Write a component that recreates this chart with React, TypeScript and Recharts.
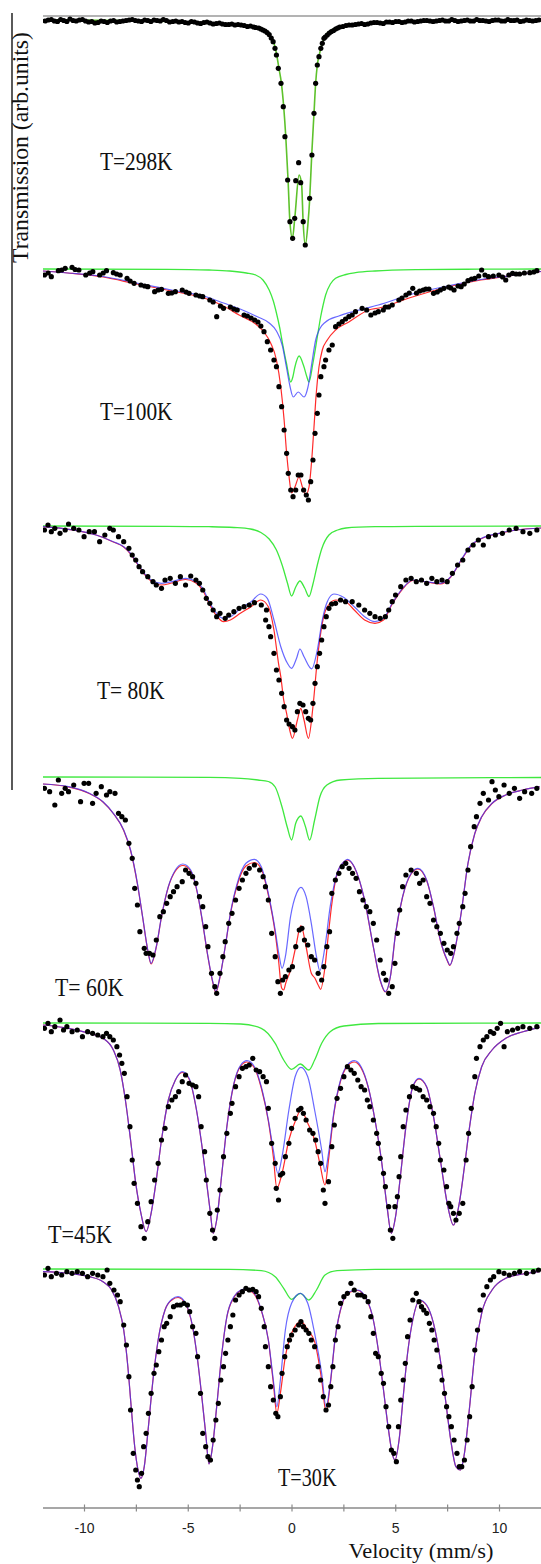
import React from 'react';
import { ComposedChart, Line, Scatter, XAxis, YAxis, ReferenceLine } from 'recharts';

type Pt = [number, number];

// [velocity (mm/s), transmission (arb. units, 100 = baseline)]

// T = 298K
const P1_DATA: Pt[] = [
  [-11.9, 99.9], [-11.6, 100.05], [-11.3, 99.85], [-11.0, 99.95], [-10.7, 100.1], [-10.4, 99.9], [-10.1, 100.05],
  [-9.8, 99.8], [-9.5, 99.7], [-9.2, 99.9], [-8.9, 99.75], [-8.6, 99.95], [-8.3, 99.85], [-8.0, 99.95], [-7.7, 100.05],
  [-7.4, 99.9], [-7.1, 100.0], [-6.8, 99.85], [-6.5, 99.95], [-6.2, 100.05], [-5.9, 99.8], [-5.6, 99.9], [-5.3, 99.85],
  [-5.0, 99.7], [-4.7, 99.8], [-4.4, 99.65], [-4.1, 99.8], [-3.8, 99.6], [-3.5, 99.7], [-3.2, 99.55], [-2.9, 99.6],
  [-2.6, 99.55], [-2.3, 99.45], [-2.0, 99.4], [-1.75, 99.25], [-1.5, 99.1], [-1.3, 98.9], [-1.1, 98.55],
  [-11.75, 100.0], [-11.45, 99.9], [-11.15, 100.05], [-10.85, 99.85], [-10.55, 99.95], [-10.25, 100.0], [-9.95, 99.9],
  [-9.65, 99.85], [-9.35, 99.75], [-9.05, 99.85], [-8.75, 99.9], [-8.45, 99.8], [-8.15, 99.9], [-7.85, 100.0],
  [-7.55, 99.95], [-7.25, 99.85], [-6.95, 99.95], [-6.65, 100.0], [-6.35, 99.9], [-6.05, 99.95], [-5.75, 99.85],
  [-5.45, 99.8], [-5.15, 99.75], [-4.85, 99.85], [-4.55, 99.7], [-4.25, 99.75], [-3.95, 99.7], [-3.65, 99.65],
  [-3.35, 99.6], [-3.05, 99.55], [-2.75, 99.5], [-2.45, 99.5], [-2.15, 99.35], [-1.85, 99.3], [-1.6, 99.2],
  [-1.4, 99.0], [-1.2, 98.75], [-1.0, 98.2],
  [-0.91, 97.83], [-0.82, 97.17], [-0.75, 96.5], [-0.66, 95.17], [-0.53, 93.67], [-0.42, 91.33], [-0.34, 88.33],
  [-0.21, 84.0], [-0.1, 79.83], [0.03, 78.17], [0.13, 80.17], [0.18, 83.93], [0.32, 85.73], [0.42, 83.73],
  [0.54, 79.83], [0.64, 77.5], [0.85, 82.17], [0.96, 86.5], [1.06, 90.67], [1.14, 93.67], [1.22, 95.5], [1.3, 96.33],
  [1.39, 97.17], [1.46, 97.67], [1.54, 98.17], [1.7, 98.5], [1.9, 98.85], [2.1, 99.1], [2.3, 99.3], [2.6, 99.45],
  [2.9, 99.5], [3.2, 99.6], [3.5, 99.55], [3.8, 99.7], [4.1, 99.75], [4.4, 99.65], [4.7, 99.8], [5.0, 99.85],
  [5.3, 99.75], [5.6, 99.9], [5.9, 99.8], [6.2, 99.9], [6.5, 99.95], [6.8, 99.85], [7.1, 99.95], [7.4, 99.9],
  [7.7, 100.05], [8.0, 99.85], [8.3, 99.95], [8.6, 99.9], [8.9, 100.05], [9.2, 99.95], [9.5, 99.85], [9.8, 100.0],
  [10.1, 99.9], [10.4, 100.05], [10.7, 99.95], [11.0, 99.85], [11.3, 100.0], [11.6, 99.9], [11.9, 100.0],
  [1.6, 98.3], [1.8, 98.7], [2.0, 98.95], [2.2, 99.2], [2.45, 99.35], [2.75, 99.5], [3.05, 99.55], [3.35, 99.65],
  [3.65, 99.6], [3.95, 99.75], [4.25, 99.7], [4.55, 99.8], [4.85, 99.75], [5.15, 99.85], [5.45, 99.8], [5.75, 99.9],
  [6.05, 99.85], [6.35, 99.95], [6.65, 99.9], [6.95, 99.9], [7.25, 100.0], [7.55, 99.9], [7.85, 99.95], [8.15, 99.9],
  [8.45, 100.0], [8.75, 99.9], [9.05, 99.95], [9.35, 99.9], [9.65, 99.95], [9.95, 100.0], [10.25, 99.9],
  [10.55, 99.95], [10.85, 100.0], [11.15, 99.9], [11.45, 99.95], [11.75, 99.95],
];
const P1_FIT: Pt[] = [
  [-12, 100], [-8, 99.95], [-6, 99.85], [-4.95, 99.75], [-3.35, 99.6], [-2.5, 99.5], [-1.75, 99.3], [-1.11, 98.5],
  [-0.87, 97.67], [-0.75, 96.67], [-0.63, 95.17], [-0.51, 93.67], [-0.4, 91.33], [-0.3, 88.33], [-0.19, 84.0],
  [-0.1, 79.83], [0.02, 78.17], [0.14, 80.33], [0.34, 84.5], [0.46, 83.67], [0.54, 79.67], [0.64, 77.5], [0.77, 79.67],
  [0.85, 82.0], [0.95, 86.5], [1.06, 90.67], [1.14, 93.67], [1.22, 95.5], [1.33, 96.67], [1.46, 97.67], [1.62, 98.5],
  [2.1, 99.17], [3.06, 99.5], [3.7, 99.7], [6, 99.85], [9, 99.92], [12, 99.95],
];

// T = 100K
const P2_DATA: Pt[] = [
  [-11.93, 99.4], [-11.6, 99.23], [-11.26, 99.83], [-10.93, 100.07], [-10.6, 100.17], [-10.27, 99.9], [-9.94, 99.4],
  [-9.6, 99.73], [-9.27, 99.4], [-8.94, 99.83], [-8.61, 99.63], [-8.28, 99.4], [-7.95, 99.07], [-7.61, 98.57],
  [-7.28, 98.4], [-6.95, 98.23], [-6.62, 97.73], [-6.29, 97.97], [-5.96, 97.57], [-5.62, 97.73], [-5.29, 97.9],
  [-4.96, 97.57], [-4.63, 97.4], [-4.3, 97.23], [-3.96, 96.9], [-3.63, 95.23], [-3.3, 96.07], [-2.97, 96.2],
  [-2.64, 95.9], [-2.31, 95.4], [-1.97, 95.1], [-1.64, 94.7], [-1.35, 93.73], [-1.19, 92.73], [-1.03, 91.9],
  [-11.75, 99.6], [-11.1, 99.9], [-10.45, 99.95], [-9.75, 99.6], [-9.1, 99.6], [-8.45, 99.5], [-7.8, 98.8],
  [-7.1, 98.3], [-6.45, 97.9], [-5.8, 97.6], [-5.1, 97.7], [-4.45, 97.3], [-3.8, 96.7], [-3.45, 96.3], [-2.8, 96.0],
  [-2.15, 95.3], [-1.8, 94.9], [-1.5, 94.3],
  [-0.87, 90.9], [-0.75, 90.23], [-0.63, 88.23], [-0.5, 86.23], [-0.38, 83.9], [-0.26, 81.57], [-0.18, 79.57],
  [-0.06, 77.9], [0.05, 77.23], [0.18, 77.9], [0.3, 79.4], [0.43, 79.4], [0.56, 77.9], [0.69, 77.4], [0.79, 76.9],
  [0.9, 78.73], [1.01, 80.9], [1.11, 83.57], [1.22, 85.57], [1.3, 87.4], [1.39, 89.23], [1.54, 90.23], [1.62, 90.9],
  [1.78, 91.9], [1.94, 92.4], [2.1, 94.23], [2.42, 94.73], [2.74, 95.23], [3.06, 95.73], [3.38, 96.07], [3.8, 95.4],
  [4.16, 95.73], [4.4, 95.9], [4.5, 96.2], [4.83, 96.4], [5.15, 96.9], [5.49, 97.4], [5.82, 98.07], [6.0, 97.6],
  [6.32, 97.9], [6.6, 98.0], [6.82, 97.57], [7.0, 97.7], [7.32, 98.07], [7.55, 98.2], [7.81, 97.9], [8.0, 98.3],
  [8.15, 98.23], [8.48, 98.83], [8.81, 99.07], [9.14, 99.9], [9.47, 99.23], [9.97, 99.4], [10.3, 98.9],
  [10.63, 99.57], [10.97, 99.5], [11.46, 99.63], [11.8, 99.83],
  [2.26, 94.5], [2.58, 95.0], [2.9, 95.4], [3.6, 95.9], [4.0, 95.6], [4.65, 96.2], [5.3, 97.1], [5.65, 97.6],
  [6.15, 97.8], [6.45, 98.0], [7.15, 97.9], [7.65, 98.1], [8.3, 98.5], [8.65, 99.0], [9.0, 99.3], [9.3, 99.4],
  [9.7, 99.3], [10.15, 99.2], [10.45, 99.4], [10.8, 99.5], [11.2, 99.6], [11.65, 99.7],
];
const P2_RED: Pt[] = [
  [-12, 99.8], [-10.8, 99.6], [-9.1, 99.2], [-7.5, 98.5], [-5.8, 97.8], [-4.1, 97.0], [-3.3, 96.3], [-2.55, 95.4],
  [-1.75, 94.5], [-1.35, 93.7], [-1.03, 92.6], [-0.75, 90.9], [-0.54, 88.2], [-0.38, 84.9], [-0.26, 81.6],
  [-0.14, 79.2], [-0.02, 77.6], [0.14, 78.2], [0.34, 79.2], [0.5, 78.2], [0.66, 77.4], [0.82, 78.2], [0.95, 80.9],
  [1.06, 84.2], [1.17, 87.6], [1.3, 90.2], [1.46, 91.9], [1.7, 92.9], [2.1, 93.9], [2.74, 94.7], [3.7, 95.9],
  [4.2, 96.1], [5.8, 97.2], [7.5, 98.2], [9.1, 98.9], [10.8, 99.4], [12, 99.75],
];
const P2_BLUE: Pt[] = [
  [-12, 99.8], [-10.8, 99.6], [-9.1, 99.25], [-7.5, 98.6], [-5.8, 97.9], [-4.1, 97.2], [-3.3, 96.6], [-2.5, 96.0],
  [-1.75, 95.3], [-1.1, 94.6], [-0.75, 93.8], [-0.46, 92.3], [-0.27, 90.2], [-0.1, 88.3], [0.06, 87.2], [0.3, 87.7],
  [0.58, 87.2], [0.77, 88.2], [0.95, 90.5], [1.14, 92.9], [1.33, 94.0], [1.62, 94.7], [2.26, 95.3], [3.06, 95.8],
  [4.16, 96.4], [5.8, 97.5], [7.5, 98.3], [9.1, 98.95], [10.8, 99.4], [12, 99.75],
];
const P2_GREEN: Pt[] = [
  [-12, 100], [-6, 99.97], [-4, 99.9], [-3, 99.8], [-2.2, 99.6], [-1.75, 99.4], [-1.4, 98.9], [-1.1, 97.9],
  [-0.9, 96.8], [-0.75, 95.6], [-0.6, 94.2], [-0.46, 92.6], [-0.27, 90.6], [-0.06, 88.7], [0.04, 89.2], [0.14, 90.2],
  [0.34, 91.3], [0.58, 90.2], [0.72, 89.2], [0.82, 88.7], [1.01, 90.6], [1.22, 93.2], [1.38, 95.2], [1.5, 96.4],
  [1.62, 97.4], [1.85, 98.5], [2.1, 99.07], [2.6, 99.45], [3.06, 99.63], [4, 99.8], [6, 99.93], [9, 99.98], [12, 100],
];

// T = 80K
const P3_DATA: Pt[] = [
  [-11.93, 99.6], [-11.76, 100.1], [-11.6, 99.43], [-11.43, 99.77], [-11.18, 99.27], [-10.93, 99.6], [-10.77, 100.2],
  [-10.52, 99.77], [-10.27, 99.6], [-10.02, 98.93], [-9.77, 99.43], [-9.52, 99.43], [-9.27, 98.43], [-9.02, 99.1],
  [-8.78, 99.77], [-8.61, 99.6], [-8.36, 98.93], [-8.11, 98.43], [-7.86, 97.77], [-7.7, 97.1], [-7.53, 96.6],
  [-7.37, 95.93], [-7.2, 95.43], [-6.95, 94.93], [-6.7, 94.43], [-6.54, 94.1], [-6.29, 93.77], [-6.12, 94.6],
  [-5.87, 94.77], [-5.62, 94.27], [-5.38, 94.93], [-5.13, 94.1], [-4.88, 95.0], [-4.63, 94.6], [-4.46, 94.27],
  [-4.3, 93.6], [-4.13, 92.77], [-3.96, 92.27], [-3.8, 91.6], [-3.63, 90.93], [-3.47, 91.27], [-3.22, 90.77],
  [-3.05, 91.1], [-2.8, 91.43], [-2.55, 91.77], [-2.31, 91.93], [-2.06, 92.1], [-1.81, 92.33], [-1.48, 92.1],
  [-1.27, 90.6], [-1.23, 91.6], [-1.11, 89.93], [-1.03, 88.93], [-0.87, 87.27], [-0.75, 85.6], [-0.63, 84.6],
  [-0.5, 83.27], [-0.38, 81.93], [-0.26, 80.6], [-0.14, 80.2], [0.02, 79.93], [0.14, 79.6], [0.26, 81.43],
  [0.38, 82.27], [0.53, 82.1], [0.66, 81.43], [0.79, 80.77], [0.9, 80.6], [1.01, 82.27], [1.11, 84.27], [1.22, 85.93],
  [1.33, 87.27], [1.43, 88.6], [1.54, 89.93], [1.65, 90.93], [1.78, 91.77], [1.91, 92.2], [2.1, 92.27], [2.34, 92.6],
  [2.58, 92.43], [2.9, 92.43], [3.22, 92.1], [3.5, 91.6], [3.75, 91.27], [4.0, 90.93], [4.25, 90.77], [4.5, 90.93],
  [4.66, 91.6], [4.83, 92.43], [4.99, 93.1], [5.24, 93.93], [5.49, 94.6], [5.74, 94.77], [5.99, 94.43], [6.24, 94.6],
  [6.49, 94.27], [6.74, 94.77], [6.98, 94.43], [7.23, 94.6], [7.48, 94.43], [7.73, 95.27], [7.98, 96.1], [8.23, 96.6],
  [8.48, 97.6], [8.73, 98.1], [8.98, 98.6], [9.22, 98.1], [9.47, 98.93], [9.8, 99.1], [10.14, 99.27], [10.47, 99.6],
  [10.8, 99.77], [11.13, 99.43], [11.46, 99.27], [11.8, 99.6],
];
const P3_RED: Pt[] = [
  [-12, 99.93], [-10.77, 99.67], [-9.44, 99.1], [-8.61, 98.4], [-8.11, 97.9], [-7.78, 97.2], [-7.45, 96.2],
  [-7.12, 95.2], [-6.79, 94.5], [-6.29, 94.1], [-5.79, 94.3], [-5.13, 94.65], [-4.63, 94.3], [-4.31, 93.6],
  [-3.96, 92.1], [-3.63, 91.0], [-3.3, 90.43], [-2.97, 90.6], [-2.47, 91.3], [-1.97, 91.93], [-1.51, 92.6],
  [-1.14, 91.93], [-0.87, 89.6], [-0.65, 86.27], [-0.54, 84.93], [-0.4, 82.6], [-0.26, 81.27], [-0.11, 79.6],
  [0.02, 78.77], [0.26, 80.6], [0.42, 81.77], [0.58, 80.6], [0.79, 78.77], [1.01, 81.93], [1.22, 86.6], [1.46, 90.27],
  [1.7, 91.93], [2.1, 92.6], [2.58, 92.43], [3.0, 91.6], [3.5, 90.6], [4.0, 90.27], [4.41, 90.6], [4.83, 92.2],
  [5.33, 93.7], [5.82, 94.55], [6.49, 94.4], [7.15, 94.2], [7.65, 94.9], [8.15, 96.55], [8.64, 98.05], [9.14, 98.75],
  [9.97, 99.25], [10.8, 99.6], [12, 99.8],
];
const P3_BLUE: Pt[] = [
  [-12, 99.93], [-10.77, 99.67], [-9.44, 99.1], [-8.61, 98.43], [-8.11, 97.93], [-7.78, 97.27], [-7.45, 96.27],
  [-7.12, 95.27], [-6.79, 94.6], [-6.29, 94.27], [-5.79, 94.43], [-5.13, 94.77], [-4.63, 94.43], [-4.31, 93.8],
  [-3.96, 92.3], [-3.63, 91.27], [-3.35, 90.8], [-2.97, 90.93], [-2.47, 91.77], [-1.97, 92.43], [-1.51, 93.2],
  [-1.19, 92.77], [-0.87, 90.6], [-0.54, 87.93], [-0.22, 86.27], [-0.02, 85.77], [0.22, 86.77], [0.38, 87.7],
  [0.58, 86.93], [0.95, 85.72], [1.22, 87.6], [1.46, 90.6], [1.7, 92.43], [2.02, 93.2], [2.5, 92.85], [3.0, 91.93],
  [3.5, 90.93], [4.0, 90.43], [4.41, 90.77], [4.83, 92.27], [5.33, 93.77], [5.82, 94.6], [6.49, 94.43], [7.15, 94.27],
  [7.65, 94.93], [8.15, 96.6], [8.64, 98.1], [9.14, 98.77], [9.97, 99.27], [10.8, 99.6], [12, 99.8],
];
const P3_GREEN: Pt[] = [
  [-12, 100], [-6, 99.97], [-4, 99.93], [-2.8, 99.85], [-2, 99.7], [-1.5, 99.35], [-1.1, 98.7], [-0.75, 97.6],
  [-0.46, 96.0], [-0.22, 94.3], [-0.02, 93.0], [0.18, 93.9], [0.38, 94.5], [0.61, 93.8], [0.82, 92.95], [1.01, 94.2],
  [1.22, 96.1], [1.43, 97.7], [1.78, 99.1], [2.2, 99.6], [2.6, 99.8], [4, 99.93], [6, 99.97], [12, 100],
];

// T = 60K
const P4_DATA: Pt[] = [
  [-11.93, 98.87], [-11.68, 98.53], [-11.43, 97.2], [-11.26, 99.7], [-11.1, 98.37], [-10.93, 98.87], [-10.77, 98.53],
  [-10.52, 99.2], [-10.19, 97.53], [-10.02, 99.37], [-9.8, 99.37], [-9.61, 97.37], [-9.44, 98.37], [-9.19, 99.03],
  [-8.94, 98.2], [-8.78, 98.53], [-8.53, 98.37], [-8.36, 96.37], [-8.2, 96.03], [-8.03, 95.7], [-7.86, 93.37],
  [-7.7, 91.87], [-7.58, 88.87], [-7.45, 87.2], [-7.33, 84.53], [-7.12, 82.87], [-7.03, 82.37], [-6.87, 82.37],
  [-6.7, 82.2], [-6.54, 83.7], [-6.37, 86.03], [-6.2, 86.53], [-6.04, 87.37], [-5.87, 88.03], [-5.71, 88.53],
  [-5.54, 89.03], [-5.29, 89.53], [-5.13, 90.7], [-4.96, 90.37], [-4.79, 90.03], [-4.63, 89.37], [-4.46, 88.03],
  [-4.3, 87.03], [-4.16, 85.03], [-4.05, 83.03], [-3.88, 80.37], [-3.72, 79.03], [-3.63, 78.37], [-3.47, 80.37],
  [-3.33, 82.03], [-3.22, 83.53], [-3.05, 85.37], [-2.89, 86.37], [-2.72, 87.7], [-2.55, 88.87], [-2.39, 89.7],
  [-2.22, 90.37], [-2.06, 90.87], [-1.81, 91.2], [-1.56, 90.7], [-1.39, 90.03], [-1.28, 89.03], [-1.14, 87.7],
  [-0.98, 84.37], [-0.81, 82.03], [-0.68, 79.53], [-0.56, 78.37], [-0.45, 79.7], [-0.32, 80.03], [-0.15, 80.7],
  [0.02, 81.03], [0.18, 83.03], [0.35, 84.7], [0.48, 84.87], [0.6, 83.7], [0.76, 83.2], [0.93, 82.03], [1.09, 81.7],
  [1.26, 80.37], [1.43, 79.7], [1.54, 81.03], [1.68, 83.03], [1.81, 84.53], [1.92, 88.37], [2.09, 89.7], [2.26, 90.37],
  [2.42, 91.03], [2.59, 91.37], [2.75, 90.87], [2.92, 90.37], [3.09, 89.87], [3.25, 88.53], [3.42, 87.7], [3.58, 87.03],
  [3.75, 86.53], [3.92, 85.37], [4.08, 83.7], [4.25, 81.7], [4.41, 80.37], [4.53, 79.7], [4.66, 78.37], [4.83, 79.03],
  [4.96, 81.37], [5.08, 84.37], [5.19, 86.7], [5.33, 89.03], [5.49, 90.2], [5.74, 90.7], [5.99, 90.37], [6.15, 89.37],
  [6.32, 89.7], [6.49, 88.03], [6.65, 87.37], [6.82, 85.7], [6.98, 85.03], [7.15, 84.37], [7.32, 83.37], [7.48, 82.7],
  [7.65, 82.37], [7.78, 83.03], [7.95, 84.37], [8.06, 85.37], [8.23, 87.03], [8.34, 88.37], [8.48, 90.7], [8.61, 93.03],
  [8.78, 95.03], [8.89, 96.03], [9.06, 97.37], [9.22, 98.37], [9.47, 97.7], [9.64, 99.53], [9.8, 98.7], [9.97, 98.03],
  [10.22, 99.2], [10.47, 98.37], [10.72, 98.87], [10.97, 97.87], [11.21, 98.53], [11.55, 98.37], [11.8, 98.87],
];
const P4_RED: Pt[] = [
  [-12, 99.3], [-10.77, 99.0], [-9.77, 98.35], [-9.11, 97.5], [-8.61, 96.35], [-8.11, 94.65], [-7.78, 92.65],
  [-7.45, 89.3], [-7.2, 86.0], [-6.95, 82.65], [-6.79, 81.3], [-6.54, 83.0], [-6.29, 86.0], [-5.96, 89.0],
  [-5.62, 90.6], [-5.26, 91.15], [-4.88, 90.6], [-4.55, 88.3], [-4.3, 85.3], [-4.05, 82.0], [-3.8, 79.3],
  [-3.67, 78.45], [-3.47, 80.0], [-3.22, 83.0], [-2.97, 86.3], [-2.64, 89.2], [-2.22, 91.1], [-1.81, 91.45],
  [-1.48, 90.8], [-1.14, 88.2], [-0.81, 84.4], [-0.65, 81.7], [-0.5, 78.9], [-0.4, 78.7], [-0.3, 79.4], [-0.07, 80.7],
  [0.18, 83.0], [0.43, 85.13], [0.68, 83.0], [0.93, 80.37], [1.1, 79.9], [1.26, 79.2], [1.38, 78.77], [1.59, 81.0],
  [1.76, 84.4], [1.9, 87.0], [2.17, 90.3], [2.5, 91.5], [2.67, 91.7], [3.0, 91.0], [3.5, 87.65], [3.92, 83.0],
  [4.25, 79.65], [4.5, 78.5], [4.74, 80.0], [4.99, 84.3], [5.33, 88.0], [5.74, 90.3], [6.07, 90.8], [6.49, 89.65],
  [6.82, 87.0], [7.15, 83.65], [7.48, 81.65], [7.61, 81.15], [7.81, 82.35], [8.15, 86.35], [8.48, 91.35], [8.81, 94.35],
  [9.14, 96.0], [9.64, 97.35], [10.3, 98.2], [11.13, 98.7], [11.93, 99.03],
];
const P4_BLUE: Pt[] = [
  [-12, 99.3], [-10.77, 99.03], [-9.77, 98.37], [-9.11, 97.53], [-8.61, 96.37], [-8.11, 94.7], [-7.78, 92.7],
  [-7.45, 89.37], [-7.2, 86.03], [-6.95, 82.7], [-6.79, 81.37], [-6.54, 83.03], [-6.29, 86.03], [-5.96, 89.03],
  [-5.62, 90.7], [-5.26, 91.3], [-4.88, 90.7], [-4.55, 88.37], [-4.3, 85.37], [-4.05, 82.03], [-3.8, 79.37],
  [-3.67, 78.53], [-3.47, 80.03], [-3.22, 83.03], [-2.97, 86.37], [-2.64, 89.37], [-2.22, 91.37], [-1.81, 91.77],
  [-1.48, 91.03], [-1.14, 88.37], [-0.81, 84.7], [-0.61, 82.03], [-0.48, 80.87], [-0.32, 82.03], [-0.07, 86.03],
  [0.22, 88.37], [0.43, 88.97], [0.68, 88.03], [0.93, 85.37], [1.18, 82.03], [1.34, 80.63], [1.59, 83.03],
  [1.84, 87.03], [2.17, 90.37], [2.5, 91.53], [2.67, 91.77], [3.0, 91.03], [3.5, 87.7], [3.92, 83.03], [4.25, 79.7],
  [4.5, 78.53], [4.74, 80.03], [4.99, 84.37], [5.33, 88.03], [5.74, 90.37], [6.07, 90.87], [6.49, 89.7], [6.82, 87.03],
  [7.15, 83.7], [7.48, 81.7], [7.61, 81.2], [7.81, 82.37], [8.15, 86.37], [8.48, 91.37], [8.81, 94.37], [9.14, 96.03],
  [9.64, 97.37], [10.3, 98.2], [11.13, 98.7], [11.93, 99.03],
];
const P4_GREEN: Pt[] = [
  [-12, 100], [-4, 99.97], [-2.47, 99.87], [-1.64, 99.7], [-1.14, 99.55], [-0.81, 99.0], [-0.48, 97.0], [-0.23, 95.0],
  [-0.02, 93.7], [0.18, 95.37], [0.43, 96.1], [0.65, 95.03], [0.85, 93.7], [1.09, 95.7], [1.34, 98.0], [1.68, 99.2],
  [2.34, 99.7], [4.16, 99.87], [12, 99.95],
];

// T = 45K
const P5_DATA: Pt[] = [
  [-11.93, 99.47], [-11.76, 99.97], [-11.6, 99.13], [-11.43, 99.63], [-11.18, 100.3], [-11.01, 99.3], [-10.85, 99.63],
  [-10.6, 99.13], [-10.35, 99.3], [-10.1, 98.63], [-9.85, 99.13], [-9.61, 98.97], [-9.36, 98.8], [-9.11, 98.63],
  [-8.94, 98.97], [-8.78, 98.63], [-8.61, 98.3], [-8.44, 97.63], [-8.31, 96.8], [-8.2, 95.97], [-8.08, 94.97],
  [-7.95, 92.63], [-7.81, 89.63], [-7.7, 86.3], [-7.61, 83.97], [-7.45, 81.97], [-7.28, 79.63], [-7.12, 78.47],
  [-6.95, 80.13], [-6.79, 82.13], [-6.62, 84.3], [-6.45, 85.97], [-6.29, 88.3], [-6.12, 89.47], [-5.96, 91.63],
  [-5.79, 92.3], [-5.62, 92.63], [-5.46, 93.13], [-5.29, 94.13], [-5.13, 94.8], [-4.96, 93.97], [-4.79, 93.8],
  [-4.63, 93.63], [-4.5, 92.63], [-4.38, 89.63], [-4.21, 87.13], [-4.13, 84.3], [-3.96, 80.97], [-3.83, 79.3],
  [-3.72, 78.47], [-3.6, 81.3], [-3.47, 83.3], [-3.3, 86.63], [-3.14, 88.97], [-2.97, 90.97], [-2.89, 91.97],
  [-2.72, 93.63], [-2.55, 94.63], [-2.39, 95.47], [-2.22, 95.63], [-2.06, 95.8], [-1.89, 96.47], [-1.73, 95.3],
  [-1.56, 95.13], [-1.39, 94.63], [-1.23, 94.13], [-1.14, 91.47], [-0.98, 87.97], [-0.81, 85.97], [-0.76, 83.47],
  [-0.65, 82.3], [-0.56, 84.8], [-0.45, 84.97], [-0.32, 86.63], [-0.15, 87.97], [-0.02, 89.47], [0.15, 90.47],
  [0.32, 91.3], [0.43, 91.47], [0.55, 90.97], [0.68, 90.3], [0.85, 89.3], [1.01, 88.97], [1.14, 88.3], [1.26, 87.13],
  [1.38, 85.97], [1.51, 83.3], [1.59, 81.97], [1.76, 84.13], [1.92, 87.63], [2.04, 89.8], [2.17, 92.47], [2.34, 93.47],
  [2.5, 94.63], [2.67, 95.63], [2.84, 95.3], [3.0, 94.97], [3.17, 94.3], [3.33, 93.63], [3.5, 93.3], [3.63, 92.3],
  [3.75, 91.63], [3.92, 90.3], [4.08, 88.97], [4.16, 87.97], [4.25, 86.47], [4.41, 84.97], [4.5, 83.63], [4.66, 81.63],
  [4.74, 79.3], [4.86, 78.47], [4.96, 81.63], [5.08, 82.63], [5.16, 84.63], [5.24, 86.63], [5.36, 89.63], [5.49, 91.3],
  [5.66, 92.63], [5.82, 93.63], [5.99, 93.47], [6.15, 93.3], [6.32, 92.63], [6.49, 92.3], [6.65, 91.63], [6.82, 90.97],
  [6.95, 89.63], [7.07, 87.97], [7.15, 86.3], [7.32, 85.3], [7.45, 83.63], [7.56, 81.97], [7.65, 81.63], [7.78, 80.97],
  [7.9, 80.3], [8.06, 80.97], [8.23, 81.97], [8.39, 86.3], [8.51, 88.97], [8.64, 91.47], [8.81, 94.63], [8.89, 96.47],
  [9.06, 97.63], [9.22, 98.3], [9.39, 98.63], [9.56, 99.13], [9.72, 98.97], [9.89, 99.47], [10.05, 99.97],
  [10.22, 97.63], [10.38, 99.13], [10.63, 99.3], [10.88, 99.47], [11.13, 99.63], [11.46, 99.47], [11.8, 99.63],
];
const P5_RED: Pt[] = [
  [-12, 99.8], [-10.77, 99.47], [-9.77, 98.97], [-9.11, 98.47], [-8.61, 97.3], [-8.28, 95.3], [-8.03, 92.3],
  [-7.78, 88.3], [-7.53, 83.97], [-7.28, 80.97], [-7.03, 79.13], [-6.79, 80.97], [-6.54, 84.3], [-6.29, 88.3],
  [-5.96, 92.3], [-5.62, 94.3], [-5.29, 95.05], [-4.96, 94.4], [-4.63, 91.6], [-4.38, 88.3], [-4.13, 84.3],
  [-3.93, 80.97], [-3.8, 78.97], [-3.63, 80.3], [-3.38, 84.97], [-3.14, 89.63], [-2.8, 93.9], [-2.47, 95.7],
  [-2.17, 96.1], [-1.81, 95.5], [-1.48, 93.5], [-1.14, 90.2], [-0.9, 86.63], [-0.73, 83.47], [-0.48, 84.97],
  [-0.15, 88.3], [0.18, 90.3], [0.43, 91.3], [0.76, 89.97], [1.09, 88.3], [1.34, 85.97], [1.59, 83.8], [1.76, 86.3],
  [2.01, 90.8], [2.34, 94.2], [2.67, 95.7], [3.0, 96.1], [3.33, 95.5], [3.67, 93.6], [4.0, 90.3], [4.33, 85.97],
  [4.58, 81.63], [4.79, 78.97], [4.99, 80.63], [5.24, 84.97], [5.49, 89.63], [5.82, 93.6], [6.12, 94.4], [6.49, 93.6],
  [6.82, 90.63], [7.15, 86.3], [7.48, 81.97], [7.78, 79.8], [8.06, 81.97], [8.31, 85.63], [8.56, 89.63], [8.81, 92.97],
  [9.14, 95.63], [9.64, 97.3], [10.3, 98.47], [11.13, 99.13], [11.93, 99.57],
];
const P5_BLUE: Pt[] = [
  [-12, 99.8], [-10.77, 99.47], [-9.77, 98.97], [-9.11, 98.47], [-8.61, 97.3], [-8.28, 95.3], [-8.03, 92.3],
  [-7.78, 88.3], [-7.53, 83.97], [-7.28, 80.97], [-7.03, 79.13], [-6.79, 80.97], [-6.54, 84.3], [-6.29, 88.3],
  [-5.96, 92.3], [-5.62, 94.3], [-5.29, 95.13], [-4.96, 94.47], [-4.63, 91.63], [-4.38, 88.3], [-4.13, 84.3],
  [-3.93, 80.97], [-3.8, 78.97], [-3.63, 80.3], [-3.38, 84.97], [-3.14, 89.63], [-2.8, 93.97], [-2.47, 95.8],
  [-2.17, 96.23], [-1.81, 95.63], [-1.48, 93.63], [-1.14, 90.3], [-0.9, 87.3], [-0.68, 84.97], [-0.48, 86.63],
  [-0.15, 91.3], [0.15, 94.63], [0.43, 95.57], [0.76, 94.63], [1.09, 91.3], [1.43, 87.3], [1.59, 85.13], [1.76, 86.97],
  [2.01, 90.97], [2.34, 94.3], [2.67, 95.8], [3.0, 96.23], [3.33, 95.63], [3.67, 93.63], [4.0, 90.3], [4.33, 85.97],
  [4.58, 81.63], [4.79, 78.97], [4.99, 80.63], [5.24, 84.97], [5.49, 89.63], [5.82, 93.63], [6.12, 94.47], [6.49, 93.63],
  [6.82, 90.63], [7.15, 86.3], [7.48, 81.97], [7.78, 79.8], [8.06, 81.97], [8.31, 85.63], [8.56, 89.63], [8.81, 92.97],
  [9.14, 95.63], [9.64, 97.3], [10.3, 98.47], [11.13, 99.13], [11.93, 99.57],
];
const P5_GREEN: Pt[] = [
  [-12, 100], [-4, 99.97], [-2.47, 99.9], [-1.48, 99.47], [-0.81, 97.97], [-0.4, 96.3], [-0.02, 95.37], [0.4, 95.9],
  [0.81, 95.3], [1.09, 96.3], [1.43, 97.97], [1.84, 99.13], [2.5, 99.7], [4.16, 99.95], [12, 100],
];

// T = 30K
const P6_DATA: Pt[] = [
  [-11.93, 99.4], [-11.76, 100.07], [-11.6, 99.23], [-11.35, 99.57], [-11.1, 99.4], [-10.85, 99.73], [-10.6, 99.57],
  [-10.35, 99.73], [-10.1, 99.57], [-9.85, 99.23], [-9.61, 99.57], [-9.36, 99.4], [-9.11, 99.23], [-8.91, 99.9],
  [-8.78, 98.57], [-8.58, 97.9], [-8.41, 97.4], [-8.28, 96.73], [-8.11, 94.4], [-7.98, 92.4], [-7.86, 89.23],
  [-7.78, 85.9], [-7.65, 81.57], [-7.53, 79.9], [-7.45, 78.9], [-7.36, 78.23], [-7.25, 79.57], [-7.15, 82.23],
  [-7.03, 83.57], [-6.92, 85.57], [-6.79, 87.57], [-6.65, 89.57], [-6.54, 90.4], [-6.42, 91.73], [-6.29, 92.9],
  [-6.16, 94.23], [-6.04, 94.57], [-5.87, 95.23], [-5.71, 96.23], [-5.54, 96.4], [-5.38, 96.4], [-5.21, 96.57],
  [-5.04, 96.4], [-4.93, 95.73], [-4.79, 94.23], [-4.63, 93.57], [-4.55, 91.23], [-4.41, 87.57], [-4.3, 83.57],
  [-4.16, 82.23], [-4.05, 81.23], [-3.93, 80.9], [-3.8, 82.9], [-3.67, 84.9], [-3.55, 86.57], [-3.43, 88.9],
  [-3.3, 90.23], [-3.2, 91.57], [-3.09, 92.9], [-2.97, 94.23], [-2.85, 95.4], [-2.72, 96.9], [-2.55, 97.4],
  [-2.39, 97.73], [-2.22, 98.07], [-2.06, 97.9], [-1.89, 97.97], [-1.73, 97.73], [-1.61, 97.23], [-1.48, 96.07],
  [-1.34, 94.23], [-1.28, 92.23], [-1.14, 90.23], [-1.03, 88.23], [-0.9, 86.9], [-0.78, 85.57], [-0.68, 85.23],
  [-0.56, 87.23], [-0.48, 89.57], [-0.35, 91.23], [-0.23, 92.23], [-0.12, 92.9], [-0.02, 93.4], [0.15, 93.9],
  [0.32, 94.4], [0.43, 94.73], [0.55, 94.23], [0.68, 93.9], [0.81, 93.57], [0.93, 92.9], [1.09, 92.23], [1.26, 90.23],
  [1.38, 88.9], [1.51, 87.23], [1.64, 85.9], [1.76, 86.4], [1.87, 88.23], [1.97, 90.23], [2.09, 92.9], [2.22, 94.23],
  [2.34, 96.57], [2.5, 97.23], [2.67, 97.57], [2.84, 98.57], [3.0, 97.9], [3.17, 97.4], [3.33, 97.4], [3.5, 97.23],
  [3.67, 96.73], [3.8, 95.23], [3.92, 93.57], [4.03, 91.57], [4.16, 91.23], [4.3, 89.57], [4.41, 88.57], [4.53, 86.23],
  [4.66, 84.23], [4.79, 81.9], [4.91, 81.57], [5.03, 80.73], [5.13, 84.23], [5.24, 86.9], [5.36, 88.9], [5.46, 90.57],
  [5.57, 93.23], [5.69, 94.9], [5.82, 96.9], [5.99, 97.57], [6.12, 96.73], [6.24, 96.23], [6.35, 95.9], [6.49, 95.57],
  [6.62, 94.57], [6.74, 93.9], [6.85, 92.9], [6.98, 91.9], [7.12, 90.23], [7.23, 88.9], [7.35, 87.57], [7.45, 86.23],
  [7.56, 85.23], [7.68, 84.23], [7.81, 82.9], [7.95, 81.57], [8.06, 80.23], [8.18, 80.23], [8.31, 80.9], [8.44, 82.9],
  [8.56, 85.23], [8.68, 88.23], [8.81, 91.9], [8.94, 93.9], [9.06, 95.9], [9.22, 97.4], [9.39, 98.23], [9.56, 98.9],
  [9.72, 99.23], [9.97, 99.73], [10.22, 99.57], [10.47, 99.4], [10.72, 99.57], [10.97, 99.73], [11.3, 99.57],
  [11.63, 99.73], [11.88, 99.9],
];
const P6_RED: Pt[] = [
  [-12, 99.73], [-10.77, 99.57], [-9.77, 99.23], [-9.11, 98.73], [-8.69, 97.9], [-8.36, 96.23], [-8.11, 93.9],
  [-7.91, 90.23], [-7.75, 86.23], [-7.58, 82.23], [-7.42, 79.9], [-7.28, 79.07], [-7.12, 80.23], [-6.92, 84.23],
  [-6.7, 88.9], [-6.45, 92.9], [-6.12, 95.9], [-5.79, 96.9], [-5.49, 97.15], [-5.13, 96.5], [-4.79, 94.2], [-4.55, 90.9],
  [-4.33, 86.9], [-4.16, 83.57], [-4.0, 80.5], [-3.83, 82.23], [-3.63, 86.23], [-3.38, 91.57], [-3.14, 95.2],
  [-2.8, 97.15], [-2.47, 97.85], [-2.27, 97.95], [-1.89, 97.65], [-1.48, 95.85], [-1.14, 92.9], [-0.9, 88.6],
  [-0.73, 85.57], [-0.56, 87.57], [-0.32, 91.23], [-0.02, 93.57], [0.43, 94.73], [0.76, 93.9], [1.09, 92.73],
  [1.43, 88.9], [1.64, 85.73], [1.84, 88.4], [2.09, 93.2], [2.42, 96.5], [2.75, 97.65], [3.17, 97.85], [3.58, 97.0],
  [3.92, 94.9], [4.16, 91.9], [4.41, 87.9], [4.63, 84.23], [4.83, 81.57], [4.96, 80.9], [5.16, 82.9], [5.36, 87.23],
  [5.57, 91.57], [5.82, 94.9], [6.15, 96.85], [6.49, 96.35], [6.82, 94.55], [7.15, 90.9], [7.4, 86.9], [7.65, 82.9],
  [7.9, 80.23], [8.11, 79.9], [8.31, 81.57], [8.56, 86.23], [8.81, 91.57], [9.14, 95.57], [9.64, 97.9], [10.3, 99.07],
  [11.13, 99.5], [11.93, 99.73],
];
const P6_BLUE: Pt[] = [
  [-12, 99.73], [-10.77, 99.57], [-9.77, 99.23], [-9.11, 98.73], [-8.69, 97.9], [-8.36, 96.23], [-8.11, 93.9],
  [-7.91, 90.23], [-7.75, 86.23], [-7.58, 82.23], [-7.42, 79.9], [-7.28, 79.07], [-7.12, 80.23], [-6.92, 84.23],
  [-6.7, 88.9], [-6.45, 92.9], [-6.12, 95.9], [-5.79, 96.97], [-5.49, 97.23], [-5.13, 96.57], [-4.79, 94.23],
  [-4.55, 90.9], [-4.33, 86.9], [-4.16, 83.57], [-4.0, 80.5], [-3.83, 82.23], [-3.63, 86.23], [-3.38, 91.57],
  [-3.14, 95.23], [-2.8, 97.23], [-2.47, 97.9], [-2.27, 98.0], [-1.89, 97.73], [-1.48, 95.9], [-1.14, 92.9],
  [-0.9, 88.9], [-0.73, 86.23], [-0.56, 88.9], [-0.32, 93.9], [-0.02, 96.57], [0.4, 97.57], [0.76, 96.57], [1.09, 93.57],
  [1.43, 89.57], [1.64, 86.23], [1.84, 88.57], [2.09, 93.23], [2.42, 96.57], [2.75, 97.73], [3.17, 97.9], [3.58, 97.07],
  [3.92, 94.9], [4.16, 91.9], [4.41, 87.9], [4.63, 84.23], [4.83, 81.57], [4.96, 80.9], [5.16, 82.9], [5.36, 87.23],
  [5.57, 91.57], [5.82, 94.9], [6.15, 96.9], [6.49, 96.4], [6.82, 94.57], [7.15, 90.9], [7.4, 86.9], [7.65, 82.9],
  [7.9, 80.23], [8.11, 79.9], [8.31, 81.57], [8.56, 86.23], [8.81, 91.57], [9.14, 95.57], [9.64, 97.9], [10.3, 99.07],
  [11.13, 99.5], [11.93, 99.73],
];
const P6_GREEN: Pt[] = [
  [-12, 100], [-3, 99.97], [-1.48, 99.83], [-0.81, 99.23], [-0.4, 98.07], [-0.02, 96.97], [0.4, 97.57], [0.81, 96.9],
  [1.18, 97.9], [1.59, 99.4], [2.17, 99.83], [4, 99.97], [12, 100],
];

const PANEL_LABELS = ['T=298K', 'T=100K', 'T= 80K', 'T= 60K', 'T=45K', 'T=30K'];
const VELOCITY_TICKS = [-10, -7.5, -5, -2.5, 0, 2.5, 5, 7.5, 10];
const VELOCITY_DOMAIN: [number, number] = [-12, 12];

// layout
const W = 541;
const H = 1564;
const PLOT_TOP = 16;
const PLOT_BOTTOM = 1508;
const PX_PER_UNIT = 10;
const PANEL_BASE = [20, 269, 526, 777, 1023, 1269]; // pixel row of each spectrum's 100 % line
const LABEL_POS = [
  { x: 100, y: 170, w: 72.5 },
  { x: 100, y: 420, w: 72.5 },
  { x: 97, y: 699, w: 67.5 },
  { x: 55, y: 996, w: 68.5 },
  { x: 48, y: 1243, w: 64 },
  { x: 278, y: 1486, w: 58.5 },
];

const COLORS = {
  total: '#ff2b2b',
  blue: '#3535ff',
  green: '#3fe83f',
  fit298: '#5ec22c',
  frame: '#9a9a9a',
  axis: '#8a8a8a',
};

const rows = (pts: Pt[]) => pts.map(([v, t]) => ({ v, t }));
const domainFor = (base: number): [number, number] => [
  100 - (PLOT_BOTTOM - base) / PX_PER_UNIT,
  100 + (base - PLOT_TOP) / PX_PER_UNIT,
];

const PANELS = [
  { data: P1_DATA, green: P1_FIT },
  { data: P2_DATA, red: P2_RED, blue: P2_BLUE, green: P2_GREEN },
  { data: P3_DATA, red: P3_RED, blue: P3_BLUE, green: P3_GREEN },
  { data: P4_DATA, red: P4_RED, blue: P4_BLUE, green: P4_GREEN },
  { data: P5_DATA, red: P5_RED, blue: P5_BLUE, green: P5_GREEN },
  { data: P6_DATA, red: P6_RED, blue: P6_BLUE, green: P6_GREEN },
];

const Dot = (props: any) => <circle cx={props.cx} cy={props.cy} r={2.6} fill="#000" />;

const VelocityTick = ({ x, y, payload }: any) => {
  const axisY = y - 8;
  const v = payload.value;
  return (
    <g>
      <line x1={x} x2={x} y1={axisY - 3.5} y2={axisY + 3.5} stroke={COLORS.axis} strokeWidth={1.2} />
      {v % 5 === 0 && (
        <text x={x} y={axisY + 25} textAnchor="middle" fontFamily="'Liberation Sans', Arial, sans-serif" fontSize={14} fill="#222">
          {String(v)}
        </text>
      )}
    </g>
  );
};

export default function App() {
  return (
    <div style={{ position: 'absolute', left: 0, top: 0, width: W, height: H, background: '#fff' }}>
      <ComposedChart width={W} height={H} margin={{ top: PLOT_TOP, right: 0, left: 43, bottom: H - PLOT_BOTTOM - 30 }}>
        <XAxis
          dataKey="v"
          type="number"
          domain={VELOCITY_DOMAIN}
          allowDataOverflow
          ticks={VELOCITY_TICKS}
          interval={0}
          height={30}
          tickSize={6}
          tickMargin={2}
          tickLine={false}
          tick={<VelocityTick />}
          axisLine={{ stroke: COLORS.axis, strokeWidth: 1.5 }}
        />
        {PANELS.map((p, i) => (
          <YAxis
            key={`y${i}`}
            yAxisId={`p${i}`}
            dataKey="t"
            type="number"
            domain={domainFor(PANEL_BASE[i])}
            allowDataOverflow
            hide={i > 0}
            width={0}
            tick={false}
            tickLine={false}
            axisLine={{ stroke: COLORS.frame, strokeWidth: 1.5 }}
          />
        ))}
        <ReferenceLine yAxisId="p0" y={domainFor(PANEL_BASE[0])[1]} stroke={COLORS.frame} strokeWidth={1.5} />

        {PANELS.map((p, i) => [
          <Line key={`g${i}`} yAxisId={`p${i}`} data={rows(p.green)} dataKey="t" type="monotone" dot={false}
            stroke={i === 0 ? COLORS.fit298 : COLORS.green} strokeWidth={i === 0 ? 1.6 : 1.3} isAnimationActive={false} />,
          p.red ? (
            <Line key={`r${i}`} yAxisId={`p${i}`} data={rows(p.red)} dataKey="t" type="monotone" dot={false}
              stroke={COLORS.total} strokeWidth={1.2} isAnimationActive={false} />
          ) : null,
          p.blue ? (
            <Line key={`b${i}`} yAxisId={`p${i}`} data={rows(p.blue)} dataKey="t" type="monotone" dot={false}
              stroke={COLORS.blue} strokeOpacity={0.75} strokeWidth={1.2} isAnimationActive={false} />
          ) : null,
          <Scatter key={`d${i}`} yAxisId={`p${i}`} data={rows(p.data)} dataKey="t" shape={Dot} isAnimationActive={false} />,
        ])}
      </ComposedChart>

      <svg width={W} height={H} style={{ position: 'absolute', left: 0, top: 0, pointerEvents: 'none' }}>
        <line x1={12} x2={12} y1={13} y2={790} stroke="#000" strokeWidth={1.3} />
        <text
          x={28}
          y={147.5}
          transform="rotate(-90, 28, 147.5)"
          textAnchor="middle"
          fontFamily="'Liberation Serif', 'Times New Roman', serif"
          fontSize={23}
          textLength={231}
          lengthAdjust="spacingAndGlyphs"
          fill="#111"
        >
          Transmission (arb.units)
        </text>
        {PANEL_LABELS.map((label, i) => (
          <text
            key={label}
            x={LABEL_POS[i].x}
            y={LABEL_POS[i].y}
            fontFamily="'Liberation Serif', 'Times New Roman', serif"
            fontSize={26}
            textLength={LABEL_POS[i].w}
            lengthAdjust="spacingAndGlyphs"
            fill="#111"
          >
            {label}
          </text>
        ))}
        <text
          x={348.5}
          y={1558}
          fontFamily="'Liberation Serif', 'Times New Roman', serif"
          fontSize={20}
          textLength={145}
          lengthAdjust="spacingAndGlyphs"
          fill="#111"
        >
          Velocity (mm/s)
        </text>
      </svg>
    </div>
  );
}
